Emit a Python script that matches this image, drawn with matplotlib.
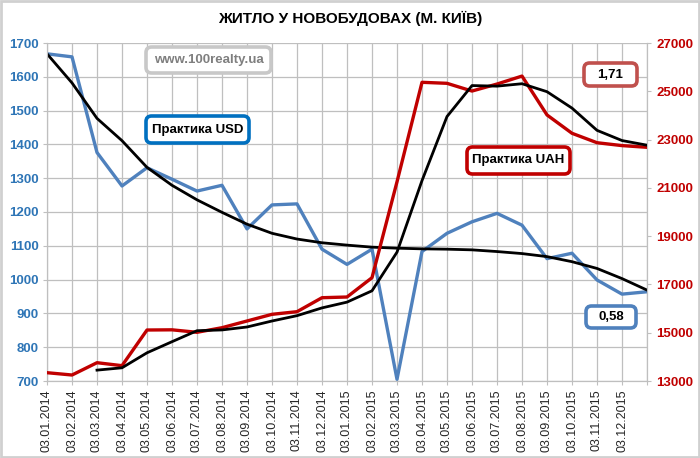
import matplotlib
matplotlib.use("Agg")
import matplotlib.pyplot as plt
from matplotlib.patches import FancyBboxPatch, Rectangle

plt.rcParams['font.family'] = ['Liberation Sans', 'DejaVu Sans']

dates = ["03.01.2014", "03.02.2014", "03.03.2014", "03.04.2014", "03.05.2014", "03.06.2014",
         "03.07.2014", "03.08.2014", "03.09.2014", "03.10.2014", "03.11.2014", "03.12.2014",
         "03.01.2015", "03.02.2015", "03.03.2015", "03.04.2015", "03.05.2015", "03.06.2015",
         "03.07.2015", "03.08.2015", "03.09.2015", "03.10.2015", "03.11.2015", "03.12.2015", ""]

usd = [1668, 1659, 1376, 1277, 1331, 1297, 1262, 1279, 1150, 1221, 1224, 1090, 1045,
       1090, 705, 1083, 1137, 1171, 1196, 1161, 1062, 1078, 999, 957, 964]
usd_trend = [1668, 1582, 1477, 1411, 1332, 1279, 1236, 1199, 1164, 1137, 1120, 1109, 1102,
             1096, 1093, 1091, 1090, 1088, 1083, 1077, 1068, 1053, 1033, 1003, 969]

uah = [13344, 13248, 13758, 13635, 15112, 15120, 15017, 15208, 15485, 15762, 15871, 16450,
       16479, 17279, 21250, 25372, 25330, 25010, 25300, 25630, 24020, 23260, 22870, 22750, 22680]
uah_ma_idx = list(range(2, 25))
uah_ma = [13450, 13547, 14168, 14628, 15083, 15115, 15237, 15485, 15706, 16028, 16267,
          16736, 18336, 21300, 23954, 25237, 25213, 25313, 24983, 24303, 23383, 22960, 22767]

labels_text = {
    "site": "www.100realty.ua",
    "usd": "Практика USD",
    "uah": "Практика UAH",
    "r_uah": "1,71",
    "r_usd": "0,58",
}

W, H = 700, 458
fig = plt.figure(figsize=(W / 100, H / 100), dpi=100)
ax = fig.add_axes([47 / W, 1 - 381 / H, 600 / W, 338 / H])
ax2 = ax.twinx()

x = list(range(len(usd)))
blue = "#4f81bd"
red = "#c00000"

ax.plot(x, usd, color=blue, lw=2.4, zorder=3)
ax.plot(x, usd_trend, color="black", lw=2.0, zorder=4)
ax2.plot(x, uah, color=red, lw=2.4, zorder=3)
ax2.plot(uah_ma_idx, uah_ma, color="black", lw=2.0, zorder=4)

ax.set_xlim(0, 24)
ax.set_ylim(700, 1700)
ax2.set_ylim(13000, 27000)
ax.set_yticks(range(700, 1701, 100))
ax2.set_yticks(range(13000, 27001, 2000))
ax.set_xticks(x)
ax.set_xticklabels(dates, rotation=90, fontsize=9, color="#262626")
ax.grid(True, color="#bfbfbf", lw=0.9)
ax.set_axisbelow(True)

for lab in ax.get_yticklabels():
    lab.set_color("#2e75b6")
    lab.set_fontweight("bold")
    lab.set_fontsize(9.5)
for lab in ax2.get_yticklabels():
    lab.set_color(red)
    lab.set_fontweight("bold")
    lab.set_fontsize(9.5)

ax.tick_params(axis='both', length=3, color="#bfbfbf", pad=3)
ax2.tick_params(axis='y', length=3, color="#bfbfbf")
for a in (ax, ax2):
    for s in a.spines.values():
        s.set_color("#bfbfbf")
    a.spines['top'].set_visible(False)

fig.text(350 / W, 1 - 18 / H, "ЖИТЛО У НОВОБУДОВАХ (М. КИЇВ)", ha="center", va="center",
         fontsize=11, fontweight="bold")


def box(x0, y0, x1, y1, text, ec, tc="black", lw=2.6, fs=9.5):
    p = FancyBboxPatch((x0 / W, 1 - y1 / H), (x1 - x0) / W, (y1 - y0) / H,
                       boxstyle="round,pad=0,rounding_size=0.008",
                       mutation_aspect=W / H,
                       transform=fig.transFigure, ec=ec, fc="white", lw=lw, zorder=10)
    fig.add_artist(p)
    fig.text((x0 + x1) / 2 / W, 1 - (y0 + y1) / 2 / H, text, ha="center", va="center",
             fontsize=fs, fontweight="bold", color=tc, zorder=11)


box(146, 47, 271, 73, labels_text["site"], "#c8c8c8", tc="#7f7f7f")
box(146, 116, 249, 143, labels_text["usd"], "#0070c0")
box(467, 147, 570, 174, labels_text["uah"], red)
box(584, 63, 637, 86, labels_text["r_uah"], "#c0504d")
box(586, 306, 636, 328, labels_text["r_usd"], blue)

fig.add_artist(Rectangle((0.002, 0.003), 0.996, 0.994, transform=fig.transFigure,
                         fill=False, ec="#d0d0d0", lw=2))

fig.savefig("out.png", dpi=100)
